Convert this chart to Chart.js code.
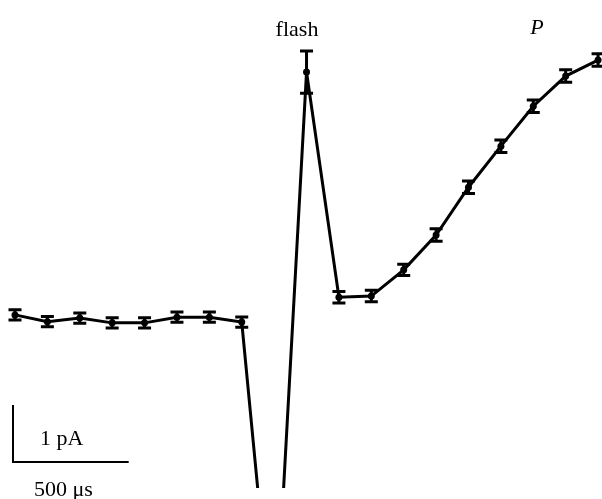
<!DOCTYPE html>
<html>
<head>
<meta charset="utf-8">
<script src="https://cdn.jsdelivr.net/npm/chart.js@4"></script>
<style>
html,body{margin:0;padding:0;background:#fff;}
#wrap{width:602px;height:499px;position:relative;}
</style>
</head>
<body>
<div id="wrap"><canvas id="c"></canvas></div>
<script>
// sample times (μs)
const times = [0,140,280,420,560,700,840,980,1120,1260,1400,1540,1680,1820,1960,2100,2240,2380,2520];
// current (pA, relative to baseline)
const current = [0.09,-0.03,0.035,-0.05,-0.05,0.05,0.05,-0.035,-5.96,4.35,0.40,0.42,0.88,1.49,2.33,3.05,3.75,4.28,4.56];
// error (± pA)
const errors = [0.09,0.09,0.09,0.09,0.09,0.09,0.09,0.09,0,0.37,0.1,0.1,0.1,0.11,0.11,0.11,0.11,0.11,0.11];
const flashLabel = "flash";
const phaseLabel = "P";
const scaleY = 1;     // pA
const scaleX = 500;   // μs
const scaleYLabel = "1 pA";
const scaleXLabel = "500 μs";

const points = times.map((t,i)=>({x:t,y:current[i]}));

const errPlugin = {
  id:'errbars',
  afterDatasetsDraw(chart){
    const ctx = chart.ctx, xs = chart.scales.x, ys = chart.scales.y;
    ctx.save();
    ctx.strokeStyle = '#000';
    ctx.lineWidth = 3;
    times.forEach((t,i)=>{
      if(!errors[i]) return;
      const px = xs.getPixelForValue(t);
      const y1 = ys.getPixelForValue(current[i]+errors[i]);
      const y2 = ys.getPixelForValue(current[i]-errors[i]);
      ctx.beginPath();
      ctx.moveTo(px,y1); ctx.lineTo(px,y2);
      ctx.moveTo(px-6.5,y1); ctx.lineTo(px+6.5,y1);
      ctx.moveTo(px-6.5,y2); ctx.lineTo(px+6.5,y2);
      ctx.stroke();
    });
    // scale bar
    const ox = 13, oy = 462;
    const vlen = Math.abs(ys.getPixelForValue(scaleY) - ys.getPixelForValue(0));
    const hlen = Math.abs(xs.getPixelForValue(scaleX) - xs.getPixelForValue(0));
    ctx.lineWidth = 2;
    ctx.beginPath();
    ctx.moveTo(ox, oy - vlen);
    ctx.lineTo(ox, oy);
    ctx.lineTo(ox + hlen, oy);
    ctx.stroke();
    ctx.fillStyle = '#000';
    ctx.font = '22px "Liberation Serif", "Times New Roman", serif';
    ctx.textBaseline = 'alphabetic';
    ctx.textAlign = 'left';
    ctx.fillText(scaleYLabel, 40, 445);
    ctx.fillText(scaleXLabel, 34, 496);
    ctx.textAlign = 'center';
    ctx.fillText(flashLabel, 297, 36);
    ctx.font = 'italic 22px "Liberation Serif", "Times New Roman", serif';
    ctx.fillText(phaseLabel, 537, 34);
    ctx.restore();
  }
};

new Chart(document.getElementById('c'), {
  type:'line',
  data:{datasets:[{
    data:points,
    borderColor:'#000',
    backgroundColor:'#000',
    borderWidth:3,
    pointRadius:3.5,
    pointBackgroundColor:'#000',
    pointBorderWidth:0,
    tension:0,
    clip:{left:10,right:10,top:10,bottom:0}
  }]},
  options:{
    responsive:true,
    maintainAspectRatio:false,
    animation:false,
    layout:{autoPadding:false,padding:{left:0,right:0,top:0,bottom:11}},
    plugins:{legend:{display:false},tooltip:{enabled:false},title:{display:false}},
    scales:{
      x:{type:'linear',display:false,min:-64.8,max:2537},
      y:{type:'linear',display:false,min:-2.947,max:5.614}
    }
  },
  plugins:[errPlugin]
});
</script>
</body>
</html>
